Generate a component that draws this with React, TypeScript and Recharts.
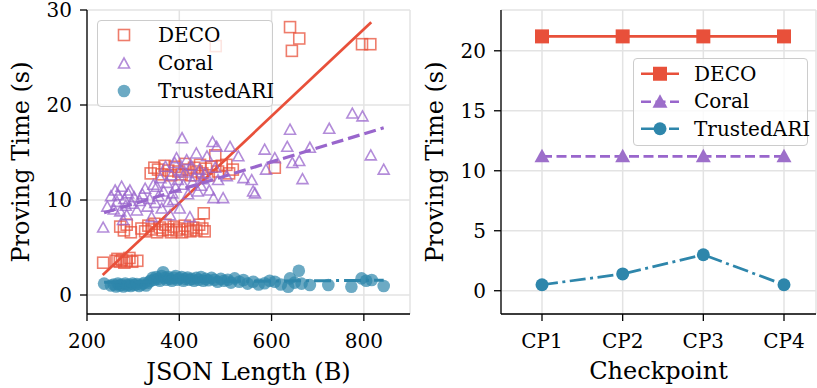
import React from 'react';
import { ScatterChart, Scatter, LineChart, Line, XAxis, YAxis, CartesianGrid } from 'recharts';

const FONT = '"DejaVu Serif", serif';
const RED = '#e8503a';
const PURPLE = '#9966cc';
const BLUE = '#2e86ab';
const GRID = '#e3e3e3';

// left panel: proving time vs JSON length, one [bytes, seconds] pair per request
const decoRaw: [number, number][] = [
  [235, 3.4], [262, 3.6], [266, 3.8], [271, 3.5], [276, 3.7], [281, 3.4], [286, 3.6], [292, 3.9], [298, 3.5], [309, 3.6],
  [272, 7.2], [280, 6.8], [286, 7.4], [295, 6.6], [318, 7.0], [326, 6.7], [333, 7.3], [340, 6.9], [346, 7.5], [352, 6.6],
  [358, 7.1], [364, 6.8], [370, 7.4], [376, 6.9], [382, 6.6], [388, 7.2], [394, 6.8], [400, 7.0], [406, 6.6], [412, 7.3],
  [418, 6.9], [424, 6.7], [430, 7.1], [437, 6.8], [443, 7.4], [450, 7.0], [455, 6.7], [453, 8.6],
  [338, 12.8], [346, 13.4], [354, 13.2], [362, 12.7], [368, 13.6], [376, 13.1], [382, 12.6], [390, 13.5], [398, 13.0],
  [405, 12.7], [412, 13.8], [418, 13.2], [425, 12.6], [432, 13.4], [438, 13.0], [445, 13.7], [450, 12.8], [458, 13.3],
  [464, 12.6], [470, 13.5], [478, 14.7], [484, 13.0], [492, 13.6], [502, 13.7], [508, 12.8], [516, 13.2],
  [607, 13.4], [479, 26.2], [640, 28.2], [660, 27.0], [644, 25.7], [796, 26.4], [814, 26.4],
];
const coralRaw: [number, number][] = [
  [235, 7.1], [244, 9.3], [252, 10.4], [258, 9.0], [261, 11.0], [265, 9.8], [268, 10.5], [272, 8.8], [275, 11.4], [278, 7.9],
  [281, 10.1], [284, 9.4], [286, 8.4], [289, 10.7], [293, 11.0], [297, 9.6], [302, 10.3], [308, 8.9], [314, 9.9], [320, 10.6],
  [326, 11.2], [331, 9.3], [336, 10.1], [340, 8.2], [344, 11.6], [348, 9.7], [351, 11.4], [355, 10.4], [359, 12.3], [362, 9.1],
  [366, 10.9], [370, 13.5], [373, 11.8], [376, 9.8], [380, 8.4], [383, 12.6], [385, 10.7], [387, 10.0], [390, 13.9], [392, 11.3],
  [394, 14.4], [397, 12.1], [401, 9.1], [403, 13.1], [406, 16.5], [409, 11.6], [412, 12.9], [416, 14.2], [419, 10.6], [423, 8.2],
  [426, 13.6], [429, 11.9], [433, 12.5], [437, 14.9], [440, 10.9], [444, 13.2], [447, 11.5], [451, 12.2], [456, 12.8], [460, 14.6],
  [465, 11.0], [472, 16.1], [474, 10.2], [478, 13.4], [481, 15.6], [484, 12.1], [495, 10.2], [503, 12.5], [510, 15.6], [528, 14.6],
  [539, 12.3], [557, 12.1], [560, 10.9], [564, 10.7], [585, 15.3], [588, 13.2], [607, 14.4], [634, 15.6], [640, 17.4], [645, 13.9],
  [660, 14.1], [667, 12.2], [683, 15.5], [725, 17.5], [775, 19.1], [797, 18.8], [815, 14.7], [843, 13.2],
];
const trustedRaw: [number, number][] = [
  [237, 1.2], [252, 1.0], [258, 1.1], [263, 0.9], [267, 1.2], [271, 1.0], [275, 1.1], [279, 0.9], [283, 1.2], [287, 1.0],
  [291, 1.1], [295, 0.95], [299, 1.2], [303, 1.05], [308, 1.15], [313, 0.95], [318, 1.1], [323, 1.25], [328, 1.0], [333, 1.3],
  [338, 1.5], [342, 1.8], [346, 1.6], [350, 1.9], [354, 1.7], [358, 1.5], [362, 2.0], [365, 2.4], [369, 1.8], [372, 1.6],
  [376, 1.9], [380, 1.7], [384, 1.5], [388, 1.8], [392, 2.0], [396, 1.6], [400, 1.75], [405, 1.9], [409, 1.5], [413, 1.7],
  [418, 1.85], [422, 1.6], [427, 1.7], [432, 1.5], [437, 1.8], [442, 1.6], [447, 1.9], [452, 1.5], [457, 1.7], [463, 1.55],
  [470, 1.8], [476, 1.6], [483, 1.4], [490, 1.7], [497, 1.5], [505, 1.6], [512, 1.3], [520, 1.75], [530, 1.4], [539, 1.58],
  [548, 1.2], [560, 1.4], [572, 1.1], [585, 1.23], [596, 1.5], [607, 1.4], [620, 1.1], [636, 0.87], [640, 1.75], [650, 1.3],
  [659, 2.56], [665, 1.2], [683, 1.05], [723, 1.05], [773, 0.87], [795, 1.75], [805, 1.5], [817, 1.58], [843, 0.95],
];
// linear fits, end points
const decoFitRaw: [number, number][] = [[234, 2.1], [816, 28.7]];
const coralFitRaw: [number, number][] = [[237, 8.65], [843, 17.6]];
const trustedFitRaw: [number, number][] = [[237, 1.35], [843, 1.55]];

const xTicks = [200, 400, 600, 800];
const yTicksLeft = [0, 10, 20, 30];

// right panel: per checkpoint
const checkpoints = ['CP1', 'CP2', 'CP3', 'CP4'];
const decoCp = [21.2, 21.2, 21.2, 21.2];
const coralCp = [11.2, 11.2, 11.2, 11.2];
const trustedCp = [0.5, 1.4, 3.0, 0.5];
const yTicksRight = [0, 5, 10, 15, 20];

const pts = (arr: [number, number][]) => arr.map(([x, y]) => ({ x, y }));
const cpRows = checkpoints.map((cp, i) => ({ cp, deco: decoCp[i], coral: coralCp[i], trusted: trustedCp[i] }));

const tickStyle = { fill: '#000', fontSize: 20, fontFamily: FONT };
const axisStroke = { stroke: '#000', strokeWidth: 1.3 };

const hollowSquare = (p: any) => (
  <rect x={p.cx - 5.5} y={p.cy - 5.5} width={11} height={11} fill="none" stroke={RED} strokeOpacity={0.75} strokeWidth={1.6} />
);
const hollowTriangle = (p: any) => (
  <path d={`M${p.cx},${p.cy - 5.5}L${p.cx + 5.5},${p.cy + 4.5}L${p.cx - 5.5},${p.cy + 4.5}Z`} fill="none" stroke={PURPLE} strokeOpacity={0.75} strokeWidth={1.6} />
);
const blueDot = (p: any) => <circle cx={p.cx} cy={p.cy} r={6.3} fill={BLUE} fillOpacity={0.7} />;
const noShape = () => <g />;

const squareDot = (p: any) => <rect key={p.index} x={p.cx - 7} y={p.cy - 7} width={14} height={14} fill={RED} />;
const triDot = (p: any) => (
  <path key={p.index} d={`M${p.cx},${p.cy - 7.5}L${p.cx + 7.5},${p.cy + 6}L${p.cx - 7.5},${p.cy + 6}Z`} fill="#9d6fca" />
);
const roundDot = (p: any) => <circle key={p.index} cx={p.cx} cy={p.cy} r={6.5} fill={BLUE} />;

const xLabel = (text: string, dy: number) => (props: any) => {
  const vb = props.viewBox || { x: 0, y: 314, width: 0 };
  return (
    <text x={vb.x + vb.width / 2} y={vb.y + dy} textAnchor="middle" fontSize={24} fontFamily={FONT} fill="#000">
      {text}
    </text>
  );
};
const yLabel = (text: string, dx: number) => (props: any) => {
  const vb = props.viewBox || { x: 0, y: 10, height: 304 };
  const x = vb.x + dx;
  const y = vb.y + vb.height / 2;
  return (
    <text x={x} y={y} transform={`rotate(-90 ${x} ${y})`} textAnchor="middle" fontSize={24} fontFamily={FONT} fill="#000">
      {text}
    </text>
  );
};

const legendBox: React.CSSProperties = {
  position: 'absolute',
  background: 'rgba(255,255,255,0.8)',
  border: '1px solid #cccccc',
  borderRadius: 4,
  fontFamily: FONT,
  fontSize: 20,
  color: '#000',
  boxSizing: 'border-box',
};

function LegendRow({ icon, label, h }: { icon: React.ReactNode; label: string; h: number }) {
  return (
    <div style={{ display: 'flex', alignItems: 'center', height: h }}>
      <svg width={58} height={h} style={{ flex: 'none' }}>{icon}</svg>
      <span style={{ marginLeft: 2, whiteSpace: 'nowrap' }}>{label}</span>
    </div>
  );
}

function ScatterLegend() {
  const h = 28;
  const c = h / 2;
  return (
    <div style={{ ...legendBox, left: 97, top: 20, width: 176, height: 87 }}>
      <LegendRow h={h} label="DECO" icon={hollowSquare({ cx: 26, cy: c })} />
      <LegendRow h={h} label="Coral" icon={hollowTriangle({ cx: 26, cy: c + 0.5 })} />
      <LegendRow h={h} label="TrustedARI" icon={blueDot({ cx: 26, cy: c })} />
    </div>
  );
}

function LineLegend() {
  const h = 27.5;
  const c = h / 2;
  return (
    <div style={{ ...legendBox, left: 633, top: 58, width: 175, height: 88, paddingTop: 1 }}>
      <LegendRow h={h} label="DECO" icon={<g><line x1={7} x2={45} y1={c} y2={c} stroke={RED} strokeWidth={2.7} />{squareDot({ cx: 26, cy: c })}</g>} />
      <LegendRow h={h} label="Coral" icon={<g><line x1={7} x2={45} y1={c} y2={c} stroke={PURPLE} strokeWidth={2.7} strokeDasharray="10 4.5" />{triDot({ cx: 26, cy: c })}</g>} />
      <LegendRow h={h} label="TrustedARI" icon={<g><line x1={7} x2={45} y1={c} y2={c} stroke={BLUE} strokeWidth={2.7} strokeDasharray="16 4.5 3 4.5" />{roundDot({ cx: 26, cy: c })}</g>} />
    </div>
  );
}

export default function App() {
  return (
    <div style={{ position: 'fixed', left: 0, top: 0, width: 817, height: 388, background: '#fff', overflow: 'hidden' }}>
      <div style={{ position: 'absolute', left: 0, top: 0 }}>
        <ScatterChart width={412} height={388} margin={{ top: 10, right: 2, bottom: 30, left: 27 }}>
          <CartesianGrid stroke={GRID} strokeWidth={1.5} />
          <XAxis
            type="number"
            dataKey="x"
            domain={[200, 900]}
            ticks={xTicks}
            interval={0}
            height={44}
            tickSize={7}
            tickMargin={13}
            tick={tickStyle}
            tickLine={axisStroke}
            axisLine={axisStroke}
            label={xLabel('JSON Length (B)', 66)}
          />
          <XAxis xAxisId="top" orientation="top" type="number" dataKey="x" domain={[200, 900]} height={0} tick={false} tickLine={false} axisLine={axisStroke} />
          <YAxis
            type="number"
            dataKey="y"
            domain={[-2, 30]}
            ticks={yTicksLeft}
            interval={0}
            width={60}
            tickSize={7}
            tickMargin={8}
            tick={tickStyle}
            tickLine={axisStroke}
            axisLine={axisStroke}
            label={yLabel('Proving Time (s)', 2)}
          />
          <YAxis yAxisId="right" orientation="right" type="number" dataKey="y" domain={[-2, 30]} width={0} tick={false} tickLine={false} axisLine={axisStroke} />
          <Scatter data={pts(decoRaw)} shape={hollowSquare} isAnimationActive={false} />
          <Scatter data={pts(decoFitRaw)} shape={noShape} line={{ stroke: RED, strokeWidth: 2.7 }} isAnimationActive={false} />
          <Scatter data={pts(coralRaw)} shape={hollowTriangle} isAnimationActive={false} />
          <Scatter data={pts(coralFitRaw)} shape={noShape} line={{ stroke: PURPLE, strokeWidth: 3.2, strokeDasharray: '12 5' }} isAnimationActive={false} />
          <Scatter data={pts(trustedRaw)} shape={blueDot} isAnimationActive={false} />
          <Scatter data={pts(trustedFitRaw)} shape={noShape} line={{ stroke: BLUE, strokeWidth: 3, strokeDasharray: '17 5 3 5' }} isAnimationActive={false} />
        </ScatterChart>
      </div>
      <div style={{ position: 'absolute', left: 400, top: 0 }}>
        <LineChart width={417} height={388} data={cpRows} margin={{ top: 10, right: 1, bottom: 30, left: 41 }}>
          <CartesianGrid stroke={GRID} strokeWidth={1.5} />
          <XAxis
            dataKey="cp"
            padding={{ left: 41, right: 32 }}
            interval={0}
            height={44}
            tickSize={7}
            tickMargin={13}
            tick={tickStyle}
            tickLine={axisStroke}
            axisLine={axisStroke}
            label={xLabel('Checkpoint', 65)}
          />
          <XAxis xAxisId="top" orientation="top" dataKey="cp" padding={{ left: 41, right: 32 }} height={0} tick={false} tickLine={false} axisLine={axisStroke} />
          <YAxis
            type="number"
            domain={[-1.94, 23.4]}
            ticks={yTicksRight}
            interval={0}
            width={60}
            tickSize={7}
            tickMargin={8}
            tick={tickStyle}
            tickLine={axisStroke}
            axisLine={axisStroke}
            label={yLabel('Proving Time (s)', 1.5)}
          />
          <YAxis yAxisId="right" orientation="right" type="number" domain={[-1.94, 23.4]} width={0} tick={false} tickLine={false} axisLine={axisStroke} />
          <Line dataKey="deco" stroke={RED} strokeWidth={2.7} dot={squareDot} isAnimationActive={false} />
          <Line dataKey="coral" stroke={PURPLE} strokeWidth={2.7} strokeDasharray="10 4.5" dot={triDot} isAnimationActive={false} />
          <Line dataKey="trusted" stroke={BLUE} strokeWidth={2.7} strokeDasharray="16 4.5 3 4.5" dot={roundDot} isAnimationActive={false} />
        </LineChart>
      </div>
      <ScatterLegend />
      <LineLegend />
    </div>
  );
}
